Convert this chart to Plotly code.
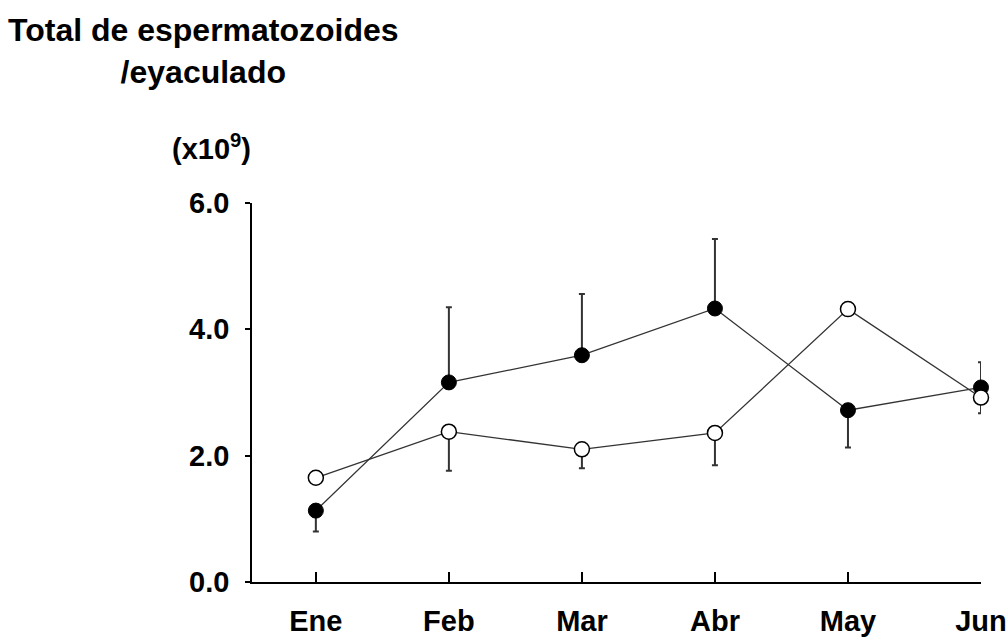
import plotly.graph_objects as go

months = ["Ene", "Feb", "Mar", "Abr", "May", "Jun"]

# filled circles
filled = [1.13, 3.16, 3.59, 4.33, 2.72, 3.08]
filled_plus = [0, 1.19, 0.97, 1.10, 0, 0.40]
filled_minus = [0.33, 0, 0, 0, 0.59, 0]

# open circles
empty = [1.65, 2.38, 2.10, 2.36, 4.32, 2.92]
empty_plus = [0, 0, 0, 0, 0, 0]
empty_minus = [0, 0.62, 0.30, 0.51, 0, 0.25]

y_ticks = [0, 2, 4, 6]
y_labels = ["0.0", "2.0", "4.0", "6.0"]

font = "Liberation Sans, Arial, sans-serif"
line_col = "#333333"

fig = go.Figure()

fig.add_trace(go.Scatter(
    x=months, y=filled,
    mode="lines+markers",
    line=dict(color=line_col, width=1.3),
    marker=dict(size=15, color="black", line=dict(color="black", width=1)),
    error_y=dict(type="data", symmetric=False, array=filled_plus,
                 arrayminus=filled_minus, color=line_col, thickness=2, width=3),
    cliponaxis=False,
    showlegend=False,
))

fig.add_trace(go.Scatter(
    x=months, y=empty,
    mode="lines+markers",
    line=dict(color=line_col, width=1.3),
    marker=dict(size=15, color="white", line=dict(color="black", width=1.5)),
    error_y=dict(type="data", symmetric=False, array=empty_plus,
                 arrayminus=empty_minus, color=line_col, thickness=2, width=3),
    cliponaxis=False,
    showlegend=False,
))

fig.update_xaxes(
    type="category", range=[-0.48, 5], automargin=False,
    showline=True, linecolor="black", linewidth=1.5,
    ticks="inside", ticklen=10, tickcolor="black", tickwidth=1.5,
    tickfont=dict(family=font, size=29, color="black", weight="bold"),
    ticklabelstandoff=12,
    showgrid=False, zeroline=False,
)

fig.update_yaxes(
    range=[0, 6], automargin=False,
    tickvals=y_ticks, ticktext=y_labels,
    showline=True, linecolor="black", linewidth=1.5,
    ticks="outside", ticklen=5, tickcolor="black", tickwidth=1.5,
    tickfont=dict(family=font, size=29, color="black", weight="bold"),
    ticklabelstandoff=10,
    showgrid=False, zeroline=False,
)

fig.add_annotation(
    text="Total de espermatozoides<br>/eyaculado",
    xref="paper", yref="paper", x=-0.067, y=1.51,
    xanchor="center", yanchor="top", align="center", showarrow=False,
    font=dict(family=font, size=32, color="black", weight="bold"),
)

fig.add_annotation(
    text="(x10<sup>9</sup>)",
    xref="paper", yref="paper", x=-0.056, y=1.2,
    xanchor="center", yanchor="top", showarrow=False,
    font=dict(family=font, size=29, color="black", weight="bold"),
)

fig.update_layout(
    template="none",
    width=1008, height=641,
    margin=dict(l=252, r=27, t=203, b=59),
    plot_bgcolor="white", paper_bgcolor="white",
)

fig.write_html("out.html", config={"displayModeBar": False},
               post_script="document.body.style.margin='0';")
